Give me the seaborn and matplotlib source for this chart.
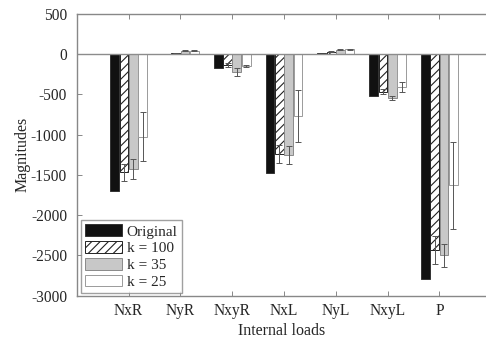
import numpy as np
import pandas as pd
import matplotlib
matplotlib.use("Agg")
import matplotlib.pyplot as plt
import seaborn as sns

categories = ["NxR", "NyR", "NxyR", "NxL", "NyL", "NxyL", "P"]
series = ["Original", "k = 100", "k = 35", "k = 25"]

original = [-1700, 5, -170, -1475, 15, -520, -2790]
k100 = [-1470, 12, -140, -1245, 30, -465, -2430]
k35 = [-1425, 42, -225, -1255, 55, -540, -2500]
k25 = [-1025, 45, -150, -770, 62, -410, -1630]

err_original = [0, 0, 0, 0, 0, 0, 0]
err_k100 = [100, 4, 25, 110, 6, 30, 175]
err_k35 = [125, 8, 50, 110, 8, 25, 140]
err_k25 = [300, 8, 15, 320, 8, 63, 540]

values = [original, k100, k35, k25]
errors = [err_original, err_k100, err_k35, err_k25]

df = pd.DataFrame({
    "cat": np.repeat([categories], 4, axis=0).ravel(),
    "series": np.repeat(series, len(categories)),
    "val": np.concatenate(values),
})

sns.set_style("white")
plt.rcParams["font.family"] = ["Liberation Serif", "DejaVu Serif"]
plt.rcParams["hatch.linewidth"] = 0.8

fig = plt.figure(figsize=(4.86, 3.39), dpi=100)
ax = fig.add_axes([0.158, 0.128, 0.842, 0.831])

face = ["#111111", "white", "#c8c8c8", "white"]
edge = ["#333333", "#222222", "#8a8a8a", "#9a9a9a"]
hatches = [None, "////", None, None]

sns.barplot(data=df, x="cat", y="val", hue="series", order=categories,
            hue_order=series, errorbar=None, width=0.72, gap=0.06,
            legend=False, ax=ax)

bar_containers = list(ax.containers)
for i, cont in enumerate(bar_containers):
    for j, p in enumerate(cont.patches):
        p.set_facecolor(face[i])
        p.set_edgecolor(edge[i])
        p.set_linewidth(0.7)
        if hatches[i]:
            p.set_hatch(hatches[i])
        e = errors[i][j]
        if e > 0:
            xc = p.get_x() + p.get_width() / 2
            ax.errorbar(xc, values[i][j], yerr=e, fmt="none",
                        ecolor="#555555", elinewidth=0.7, capsize=2.5,
                        capthick=0.7, zorder=5)

ax.axhline(0, color="#8c8c8c", lw=1.0, zorder=1)

ax.set_xlim(-1, 6.9)
ax.set_ylim(-3000, 500)
ax.set_yticks(np.arange(-3000, 501, 500))
ax.set_yticklabels([str(v) for v in np.arange(-3000, 501, 500)])
ax.set_xlabel("Internal loads", fontsize=11.5, labelpad=3)
ax.set_ylabel("Magnitudes", fontsize=11.5)
ax.yaxis.set_label_coords(-0.113, 0.5)
ax.tick_params(axis="both", direction="in", length=3.5, width=0.7,
               color="#888888", labelsize=11.2)
ax.tick_params(axis="x", top=True, bottom=True, pad=5)
ax.tick_params(axis="y", left=True, right=False, pad=7)
for s in ["left", "bottom", "top"]:
    ax.spines[s].set_color("#888888")
    ax.spines[s].set_linewidth(1.0)
ax.spines["right"].set_visible(False)

leg = ax.legend(bar_containers, series, loc="lower left",
                bbox_to_anchor=(0.01, 0.008), fontsize=11,
                frameon=True, fancybox=False, edgecolor="#888888",
                handlelength=2.4, handleheight=0.8, labelspacing=0.17,
                handletextpad=0.3, borderpad=0.3, borderaxespad=0.0)
leg.get_frame().set_linewidth(1.0)

fig.savefig("out.png", dpi=100)
